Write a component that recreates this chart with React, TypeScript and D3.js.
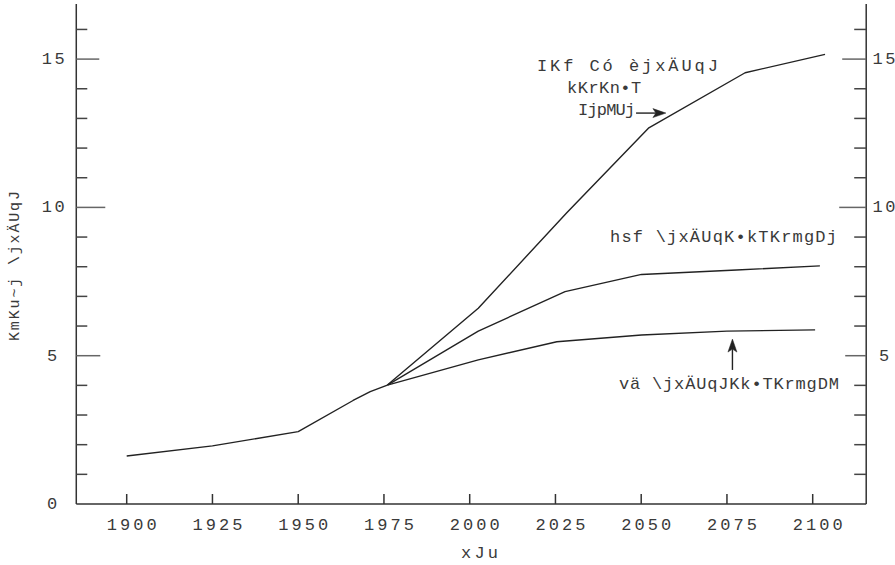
import React from "react";
import { scaleLinear, line, range } from "d3";

// --- data ---
const commonYears = [1900, 1925, 1950, 1966, 1971, 1976];
const commonValues = [1.62, 1.96, 2.44, 3.49, 3.79, 4.01];

const highYears = [1976, 2002.5, 2028.3, 2052.1, 2080.3, 2103.6];
const highValues = [4.01, 6.6, 9.82, 12.67, 14.54, 15.16];

const midYears = [1976, 2002.5, 2027.8, 2050.1, 2077.8, 2102.1];
const midValues = [4.01, 5.83, 7.16, 7.74, 7.89, 8.03];

const lowYears = [1976, 2002.5, 2025.4, 2050.1, 2075, 2100.7];
const lowValues = [4.01, 4.86, 5.47, 5.7, 5.83, 5.87];

const xTickLabels = [1900, 1925, 1950, 1975, 2000, 2025, 2050, 2075, 2100];
const yMajorTicks = [0, 5, 10, 15];
const yMinorTicks = range(1, 17).filter((v) => v % 5 !== 0);

const xLabel = "xJu";
const yLabel = "KmKu~j \\jxÄUqJ";
const highLabel = ["IKf Có èjxÄUqJ", "kKrKn•T", "IjpMUj"];
const midLabel = "hsf \\jxÄUqK•kTKrmgDj";
const lowLabel = "vä \\jxÄUqJKk•TKrmgDM";

const W = 895;
const H = 565;
const FONT = "'Liberation Mono', 'DejaVu Sans Mono', monospace";
const TXT = "#3a3a3a";

export default function App() {
  const x = scaleLinear().domain([1900, 2100]).range([126.7, 812.7]);
  const y = scaleLinear().domain([0, 16]).range([504, 29.44]);

  const xLeft = x(1885.3);
  const xRight = x(2115.6);
  const yTop = y(16.86);
  const y0 = y(0);

  const path = line<[number, number]>()
    .x((d) => x(d[0]))
    .y((d) => y(d[1]));
  const zip = (a: number[], b: number[]) =>
    a.map((v, i) => [v, b[i]] as [number, number]);

  const series = [
    zip(commonYears, commonValues),
    zip(highYears, highValues),
    zip(midYears, midValues),
    zip(lowYears, lowValues),
  ];

  // major tick lengths differ a little in the original drawing
  const leftMajor: Record<number, number> = { 5: 24, 10: 29, 15: 23 };
  const rightMajor: Record<number, number> = { 5: 21, 10: 27, 15: 24 };

  const a1x0 = x(2048.5), a1x1 = x(2057.2), a1y = y(13.18);
  const a2x = x(2076.6), a2y0 = y(4.52), a2y1 = y(5.56);

  return (
    <svg
      width={W}
      height={H}
      style={{ position: "absolute", left: 0, top: 0, background: "#fff" }}
      fontFamily={FONT}
    >
      {/* axes frame */}
      <g stroke="#333" strokeWidth={1.5} fill="none">
        <line x1={xLeft} x2={xLeft} y1={yTop} y2={y0} />
        <line x1={xRight} x2={xRight} y1={yTop} y2={y0} />
        <line x1={xLeft} x2={xRight} y1={y0} y2={y0} />
      </g>

      {/* y ticks */}
      <g stroke="#444" strokeWidth={1.5}>
        {yMinorTicks.map((v) => (
          <g key={"m" + v}>
            <line x1={xLeft} x2={xLeft + 11} y1={y(v)} y2={y(v)} />
            <line x1={xRight} x2={xRight - 12} y1={y(v)} y2={y(v)} />
          </g>
        ))}
        {yMajorTicks
          .filter((v) => v > 0)
          .map((v) => (
            <g key={"M" + v} stroke="#666">
              <line x1={xLeft} x2={xLeft + leftMajor[v]} y1={y(v)} y2={y(v)} />
              <line x1={xRight} x2={xRight - rightMajor[v]} y1={y(v)} y2={y(v)} />
            </g>
          ))}
      </g>
      <g fill={TXT} fontSize={17} textAnchor="middle">
        {yMajorTicks.map((v) => (
          <g key={"l" + v}>
            <text x={v < 10 ? 52 : 53.3} y={y(v) + 5} textLength={v < 10 ? undefined : 23} lengthAdjust="spacing">
              {v}
            </text>
            {v > 0 && (
              <text x={884} y={y(v) + 5} textLength={v < 10 ? undefined : 23} lengthAdjust="spacing">
                {v}
              </text>
            )}
          </g>
        ))}
      </g>

      {/* x ticks */}
      <g stroke="#333" strokeWidth={1.5}>
        {xTickLabels.map((t) => (
          <line key={t} x1={x(t)} x2={x(t)} y1={y0} y2={y0 - 10} />
        ))}
      </g>
      <g fill={TXT} fontSize={17} textAnchor="middle">
        {xTickLabels.map((t) => (
          <text key={t} x={x(t) + 5} y={530} textLength={50} lengthAdjust="spacing">
            {t}
          </text>
        ))}
      </g>

      {/* axis titles */}
      <text x={479.5} y={558} fill={TXT} fontSize={17} textAnchor="middle" textLength={37} lengthAdjust="spacing">
        {xLabel}
      </text>
      <text
        transform="translate(19,266) rotate(-90)"
        fill={TXT}
        fontSize={15}
        textAnchor="middle"
        textLength={150}
        lengthAdjust="spacing"
      >
        {yLabel}
      </text>

      {/* series */}
      <g fill="none" stroke="#222" strokeWidth={1.4} strokeLinejoin="round">
        {series.map((s, i) => (
          <path key={i} d={path(s) || ""} />
        ))}
      </g>

      {/* annotations */}
      <g fill={TXT} fontSize={17}>
        <text x={x(2019.6)} y={y(14.6)} textLength={181} lengthAdjust="spacing">
          {highLabel[0]}
        </text>
        <text x={x(2028.4)} y={y(13.86)} textLength={74} lengthAdjust="spacing">
          {highLabel[1]}
        </text>
        <text x={x(2031.6)} y={y(13.12)} textLength={57} lengthAdjust="spacing">
          {highLabel[2]}
        </text>
        <text x={x(2040.9)} y={y(8.83)} textLength={227} lengthAdjust="spacing">
          {midLabel}
        </text>
        <text x={x(2043.5)} y={y(3.88)} textLength={220} lengthAdjust="spacing">
          {lowLabel}
        </text>
      </g>
      <g stroke="#222" strokeWidth={1.4} fill="#222">
        <line x1={a1x0} x2={a1x1 - 10} y1={a1y} y2={a1y} />
        <path d={`M${a1x1},${a1y} L${a1x1 - 13},${a1y - 4.5} L${a1x1 - 10},${a1y} L${a1x1 - 13},${a1y + 4.5} Z`} strokeWidth={0.5} />
        <line x1={a2x} x2={a2x} y1={a2y0} y2={a2y1 + 10} />
        <path d={`M${a2x},${a2y1} L${a2x - 4.5},${a2y1 + 13} L${a2x},${a2y1 + 10} L${a2x + 4.5},${a2y1 + 13} Z`} strokeWidth={0.5} />
      </g>
    </svg>
  );
}
